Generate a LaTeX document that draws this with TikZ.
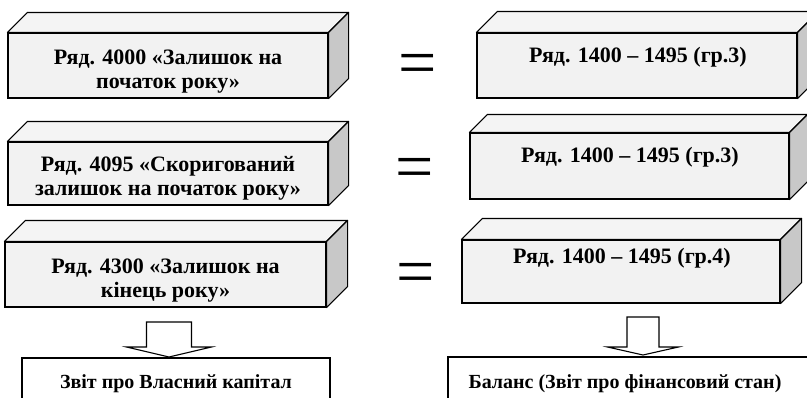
\documentclass[tikz,border=0pt]{standalone}
\usepackage{fontspec}
\setmainfont{Liberation Serif}
\begin{document}
\begin{tikzpicture}[x=1pt,y=-1pt,
  front/.style={draw=black, line width=1.1pt, fill=frontgray, rectangle, inner sep=0pt},
  lbl/.style={inner sep=0pt, align=center, font=\fontsize{22}{24.5}\selectfont\bfseries},
  topface/.style={draw=black, line width=1.1pt, fill=topgray, line join=round},
  sideface/.style={draw=black, line width=1.1pt, fill=sidegray, line join=round},
  eqsign/.style={inner sep=0pt, font=\fontsize{68}{68}\selectfont},
  hollow/.style={draw=black, line width=1.1pt, fill=white, line join=miter},
  bottombox/.style={draw=black, line width=1.1pt, fill=white, rectangle, inner sep=0pt,
    font=\fontsize{20}{24}\selectfont\bfseries}
]
\definecolor{frontgray}{HTML}{F2F2F2}
\definecolor{topgray}{HTML}{F4F4F4}
\definecolor{sidegray}{HTML}{C8C8C8}
\useasboundingbox (0,0) rectangle (807,397);
\clip (0,0) rectangle (807,397);

% slab macro: name, center x, center y, width, height, depth
\newcommand\slabbox[6]{%
  \node[front, minimum width=#4pt, minimum height=#5pt] (#1) at (#2,#3) {};
  \draw[topface] (#1.north west) -- ++(#6,-#6) -- ([shift={(#6pt,#6pt)}]#1.north east) -- (#1.north east) -- cycle;
  \draw[sideface] (#1.north east) -- ++(#6,-#6) -- ([shift={(#6pt,#6pt)}]#1.south east) -- (#1.south east) -- cycle;
}

% left column
\slabbox{L1}{168}{65.5}{320}{65}{20}
\slabbox{L2}{168}{173.5}{320}{63}{20}
\slabbox{L3}{165.5}{274.5}{321}{65}{21}
\node[lbl] (L1t) at ([yshift=-6pt]L1.center) {Ряд. 4000 «Залишок на\\ початок року»};
\node[lbl] (L2t) at ([yshift=-5pt]L2.center) {Ряд. 4095 «Скоригований\\ залишок на початок року»};
\node[lbl] (L3t) at ([yshift=-6pt]L3.center) {Ряд. 4300 «Залишок на\\ кінець року»};

% right column
\slabbox{R1}{637}{65.5}{320}{65}{21}
\slabbox{R2}{629.5}{166}{319}{66}{18}
\slabbox{R3}{621}{271.5}{318}{63}{21}
\node[lbl, anchor=base] (R1t) at (638,62) {Ряд. 1400 – 1495 (гр.3)};
\node[lbl, anchor=base] (R2t) at (630,162) {Ряд. 1400 – 1495 (гр.3)};
\node[lbl, anchor=base] (R3t) at (622,263) {Ряд. 1400 – 1495 (гр.4)};

% equals signs
\node[eqsign] (E1) at (417.5,69.5) {=};
\node[eqsign] (E2) at (414.5,174) {=};
\node[eqsign] (E3) at (415.5,278.5) {=};

% bottom boxes
\node[bottombox, minimum width=308pt, minimum height=52pt] (B1) at (176,384) {Звіт про Власний капітал};
\node[bottombox, minimum width=364pt, minimum height=54pt] (B2) at (630,384) {\hspace*{-10pt}Баланс (Звіт про фінансовий стан)};

% hollow arrows
\coordinate (A1) at (169,322);
\coordinate (A2) at (643,317);
\draw[hollow] (A1) ++(-22.5,0) -- ++(0,25) -- ++(-20,0) -- ++(42.5,10) -- ++(42.5,-10)
  -- ++(-20,0) -- ++(0,-25) -- cycle;
\draw[hollow] (A2) ++(-16,0) -- ++(0,30) -- ++(-19.5,0) -- ++(35.5,8) -- ++(35.5,-8)
  -- ++(-19.5,0) -- ++(0,-30) -- cycle;
\end{tikzpicture}
\end{document}
